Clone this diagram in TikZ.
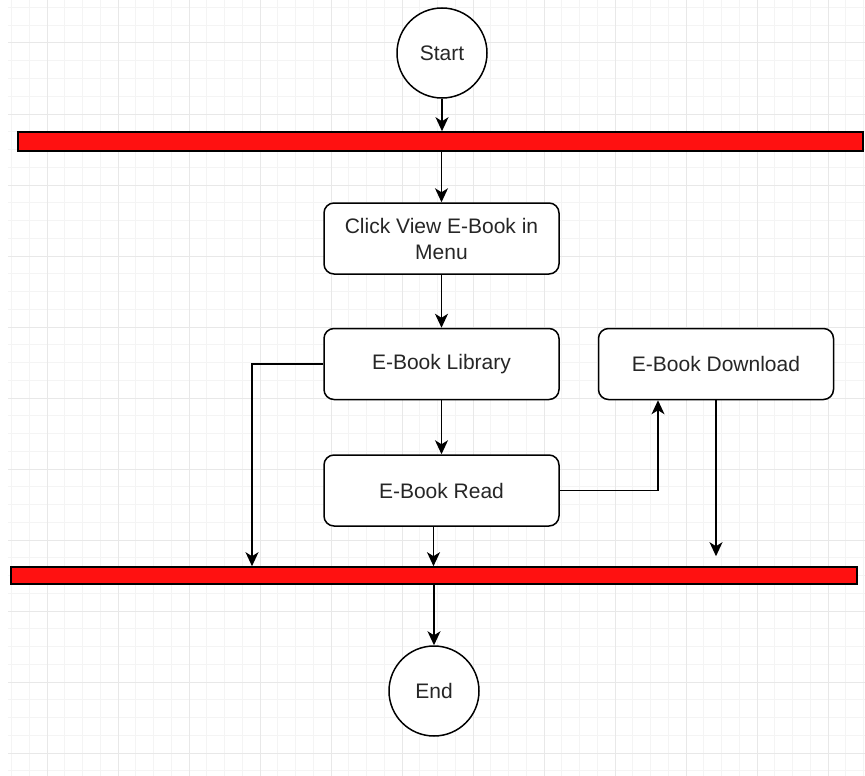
\documentclass[tikz,border=0pt]{standalone}
\usepackage{fontspec}
\setmainfont{Liberation Sans}
\usetikzlibrary{arrows.meta, positioning}

\definecolor{barred}{RGB}{255,17,17}
\definecolor{gridminor}{RGB}{244,244,244}
\definecolor{gridmajor}{RGB}{232,232,232}

\begin{document}
\begin{tikzpicture}[x=1pt, y=-1pt,
		font=\fontsize{21}{26}\selectfont,
		activity/.style={rectangle,draw,rounded corners=10pt,line width=1.5pt,minimum width=235pt,minimum height=71pt,align=center,fill=white,text=black!85},
		state/.style={circle,draw,line width=1.5pt,minimum size=90pt,inner sep=0pt,fill=white,text=black!85},
		forkbar/.style={rectangle,draw,line width=1.6pt,fill=barred,inner sep=0pt},
		flow/.style={line width=1.5pt,-{Stealth[length=14pt,width=13pt,inset=4pt]}}]
		\useasboundingbox (0,0) rectangle (865,776);
		
		% background grid
		\foreach \k in {0,...,48} {
			\draw[gridminor, line width=1pt] (11.5+17.75*\k,0) -- (11.5+17.75*\k,776);
		}
		\foreach \k in {0,...,43} {
			\draw[gridminor, line width=1pt] (8,7.5+17.75*\k) -- (865,7.5+17.75*\k);
		}
		\foreach \k in {2,6,...,46} {
			\draw[gridmajor, line width=1pt] (11.5+17.75*\k,0) -- (11.5+17.75*\k,776);
		}
		\foreach \k in {2,6,...,42} {
			\draw[gridmajor, line width=1pt] (8,7.5+17.75*\k) -- (865,7.5+17.75*\k);
		}
		
		\node[state] (start) at (442,53) {Start};
		
		\node[forkbar, minimum width=845pt, minimum height=19pt] (topbar) at (440.5,141.5) {};
		
		\node[activity] (click) at (441.5,238.5) {Click View E-Book in \\ Menu};
		
		\node[activity, below=53pt of click] (library) {E-Book Library};
		
		\node[activity, right=38pt of library] (download) {E-Book Download};
		
		\node[activity, below=54pt of library] (read) {E-Book Read};
		
		\node[forkbar, minimum width=846pt, minimum height=17pt] (botbar) at (434,575.5) {};
		
		\node[state] (finish) at (434,691) {End};
		
		\path (botbar.north) ++(-182,0) coordinate (libdrop);
		
		\draw[flow] (start) -- (start |- topbar.north);
		\draw[flow] (click.north |- topbar.south) -- (click);
		\draw[flow] (click) -- (library);
		\draw[flow] (library) -- (read);
		
		\draw[flow] (read.east) -| ([xshift=-58pt]download.south);
		\draw[flow, shorten >=10pt] (download) -- (download |- botbar.north);
		\draw[flow] (library.west) -| (libdrop);
		\draw[flow] ([xshift=-8pt]read.south) -- ([xshift=-8pt]read.south |- botbar.north);
		
		\draw[flow] (botbar.south -| finish) -- (finish);
		
	\end{tikzpicture}
\end{document}
